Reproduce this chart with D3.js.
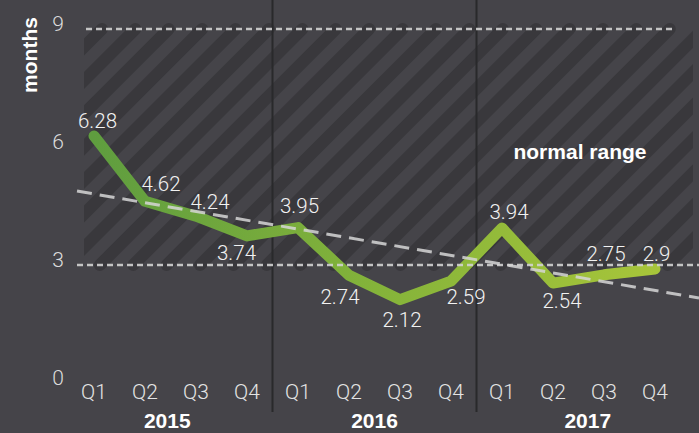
<!DOCTYPE html>
<html>
<head>
<meta charset="utf-8">
<script src="https://cdn.jsdelivr.net/npm/d3@7"></script>
<style>
  html, body { margin: 0; padding: 0; background: #454449; }
  svg { display: block; }
</style>
</head>
<body>
<svg id="chart" width="699" height="433"></svg>
<script>
// ---- data ----
const years = ["2015", "2016", "2017"];
const quarters = ["Q1", "Q2", "Q3", "Q4"];
const values = [6.28, 4.62, 4.24, 3.74, 3.95, 2.74, 2.12, 2.59, 3.94, 2.54, 2.75, 2.9];
const valueLabels = ["6.28", "4.62", "4.24", "3.74", "3.95", "2.74", "2.12", "2.59", "3.94", "2.54", "2.75", "2.9"];
const yTicks = [0, 3, 6, 9];
const normalRange = [3, 9];
const trendIndex = [-0.333, 11.863];
const trendValues = [4.88, 2.16];

// ---- layout ----
const W = 699, H = 433;
const labelDx = [3.5, 16, 14, -10.5, 1.5, -9, 2, 15, 7, 9, 2, 1.5];
const labelDy = [-15, -17, -14, 16.5, -21.5, 22, 20.5, 16, -16.5, 17.5, -21, -15];

const svg = d3.select("#chart");
const idx = d3.range(values.length);

const x = d3.scaleLinear().domain([0, values.length - 1]).range([94, 655]);
const y = d3.scaleLinear().domain([0, 9]).range([383, 29]);

const lightFont = "Roboto, 'Liberation Sans', sans-serif";
const boldFont = "'Liberation Sans', Arial, sans-serif";

// gradient along the series line
const defs = svg.append("defs");
const grad = defs.append("linearGradient")
  .attr("id", "lineGrad")
  .attr("gradientUnits", "userSpaceOnUse")
  .attr("x1", x(0)).attr("x2", x(values.length - 1))
  .attr("y1", 0).attr("y2", 0);
grad.append("stop").attr("offset", "0%").attr("stop-color", "#5f9d3f");
grad.append("stop").attr("offset", "50%").attr("stop-color", "#84b33a");
grad.append("stop").attr("offset", "100%").attr("stop-color", "#a7c53a");

// hatched band for the normal range
const bandLeft = 84, bandRight = 693;
defs.append("clipPath").attr("id", "bandClip")
  .append("rect")
  .attr("x", bandLeft).attr("y", y(normalRange[1]) - 10)
  .attr("width", bandRight - bandLeft)
  .attr("height", y(normalRange[0]) - y(normalRange[1]) + 20);

const bandH = y(normalRange[0]) - y(normalRange[1]);
const stripeGap = 33.4;
const stripeTops = d3.range(-2, 30).map(k => 102 + k * stripeGap);
svg.append("g").attr("clip-path", "url(#bandClip)")
  .selectAll("line").data(stripeTops).join("line")
  .attr("x1", d => d - bandH).attr("y1", y(normalRange[0]))
  .attr("x2", d => d).attr("y2", y(normalRange[1]))
  .attr("stroke", "#39383c")
  .attr("stroke-width", 12)
  .attr("stroke-linecap", "round");

// year separators
const separators = [3.5, 7.5];
svg.append("g").selectAll("line").data(separators).join("line")
  .attr("x1", d => x(d)).attr("x2", d => x(d))
  .attr("y1", 0).attr("y2", 412)
  .attr("stroke", "#29292b").attr("stroke-width", 2);

// series line
const line = d3.line().x(i => x(i)).y(i => y(values[i]));
svg.append("path")
  .datum(idx)
  .attr("d", line)
  .attr("fill", "none")
  .attr("stroke", "url(#lineGrad)")
  .attr("stroke-width", 11)
  .attr("stroke-linejoin", "round")
  .attr("stroke-linecap", "round");

// normal range boundaries
svg.append("line")
  .attr("x1", 86).attr("x2", 673)
  .attr("y1", y(normalRange[1])).attr("y2", y(normalRange[1]))
  .attr("stroke", "#d2d2d2").attr("stroke-width", 2.5)
  .attr("stroke-dasharray", "6,4").attr("opacity", 0.9);
svg.append("line")
  .attr("x1", 77).attr("x2", W)
  .attr("y1", y(normalRange[0])).attr("y2", y(normalRange[0]))
  .attr("stroke", "#d2d2d2").attr("stroke-width", 2.5)
  .attr("stroke-dasharray", "6,4").attr("opacity", 0.9);

// trend line
const trendLine = d3.line().x(d => x(d[0])).y(d => y(d[1]));
svg.append("path")
  .datum(d3.zip(trendIndex, trendValues))
  .attr("d", trendLine)
  .attr("fill", "none")
  .attr("stroke", "#d6d6d6")
  .attr("stroke-width", 3)
  .attr("stroke-dasharray", "15,8")
  .attr("opacity", 0.85);

// y axis tick labels
svg.append("g").selectAll("text").data(yTicks).join("text")
  .attr("x", 58).attr("y", d => y(d) - 5)
  .attr("dy", "0.35em")
  .attr("text-anchor", "middle")
  .attr("fill", "#dcdcdc")
  .attr("font-family", lightFont).attr("font-weight", 300)
  .attr("font-size", 21)
  .text(d => d);

// y axis title
svg.append("text")
  .attr("transform", "translate(37,55) rotate(-90)")
  .attr("text-anchor", "middle")
  .attr("fill", "#ffffff")
  .attr("font-family", boldFont).attr("font-weight", "bold")
  .attr("font-size", 21)
  .text("months");

// quarter labels
svg.append("g").selectAll("text").data(idx).join("text")
  .attr("x", i => x(i)).attr("y", 392)
  .attr("dy", "0.35em")
  .attr("text-anchor", "middle")
  .attr("fill", "#e4e4e4")
  .attr("font-family", lightFont).attr("font-weight", 300)
  .attr("font-size", 21)
  .text(i => quarters[i % 4]);

// year labels, centred in each year's segment
const segEdges = [62, x(3.5), x(7.5), W];
svg.append("g").selectAll("text").data(years).join("text")
  .attr("x", (d, i) => (segEdges[i] + segEdges[i + 1]) / 2)
  .attr("y", 421)
  .attr("dy", "0.35em")
  .attr("text-anchor", "middle")
  .attr("fill", "#ffffff")
  .attr("font-family", boldFont).attr("font-weight", "bold")
  .attr("font-size", 21)
  .text(d => d);

// value labels
svg.append("g").selectAll("text").data(idx).join("text")
  .attr("x", i => x(i) + labelDx[i])
  .attr("y", i => y(values[i]) + labelDy[i])
  .attr("dy", "0.35em")
  .attr("text-anchor", "middle")
  .attr("fill", "#f2f2f2")
  .attr("font-family", lightFont).attr("font-weight", 300)
  .attr("font-size", 20.5)
  .text(i => valueLabels[i]);

// band annotation
svg.append("text")
  .attr("x", 580).attr("y", 159)
  .attr("text-anchor", "middle")
  .attr("fill", "#ffffff")
  .attr("font-family", boldFont).attr("font-weight", "bold")
  .attr("font-size", 21)
  .text("normal range");
</script>
</body>
</html>
